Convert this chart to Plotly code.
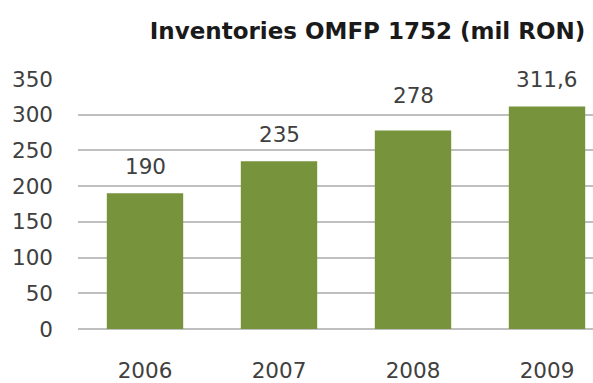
import plotly.graph_objects as go

# Inventories under OMFP 1752, thousand RON
years = ["2006", "2007", "2008", "2009"]
inventories = [190, 235, 278, 311.6]
value_labels = ["190", "235", "278", "311,6"]
y_ticks = [0, 50, 100, 150, 200, 250, 300, 350]

BAR_GREEN = "#77933C"
GRID_GREY = "#BFBFBF"
TEXT_GREY = "#404040"
FONT = "DejaVu Sans"

# vertical offset of each value label above its bar (px)
label_lift = [12.5, 12.5, 20.5, 12.5]

fig = go.Figure()
fig.add_trace(go.Bar(
    x=list(range(len(years))),
    y=inventories,
    marker=dict(color=BAR_GREEN, line=dict(width=0)),
    width=0.57,
    hoverinfo="y",
))

for i, (val, txt, lift) in enumerate(zip(inventories, value_labels, label_lift)):
    fig.add_annotation(
        x=i, y=val, xref="x", yref="y", text=txt, showarrow=False,
        xanchor="center", yanchor="bottom", yshift=lift,
        font=dict(family=FONT, size=21.5, color=TEXT_GREY),
    )

fig.update_layout(
    width=593, height=383,
    margin=dict(l=78, r=0, t=79, b=52),
    paper_bgcolor="white", plot_bgcolor="white",
    showlegend=False,
    title=dict(
        text="<b>Inventories OMFP 1752 (mil RON)</b>",
        x=367.5 / 593, xanchor="center", xref="container",
        y=1 - 31 / 383, yanchor="middle", yref="container",
        font=dict(family=FONT, size=23, color="#1A1A1A"),
    ),
    xaxis=dict(
        range=[-0.5, 3.5 - 21 / 134],
        tickvals=list(range(len(years))), ticktext=years,
        showgrid=False, showline=False, zeroline=False,
        ticks="", ticklabelstandoff=26,
        tickfont=dict(family=FONT, size=21.5, color=TEXT_GREY),
    ),
    yaxis=dict(
        range=[0, 350],
        tickvals=y_ticks,
        showgrid=True, gridcolor=GRID_GREY, gridwidth=1.5,
        zeroline=True, zerolinecolor=GRID_GREY, zerolinewidth=1.5,
        showline=False, ticks="", ticklabelstandoff=24,
        tickfont=dict(family=FONT, size=21.5, color=TEXT_GREY),
    ),
)

fig.write_html("out.html")
